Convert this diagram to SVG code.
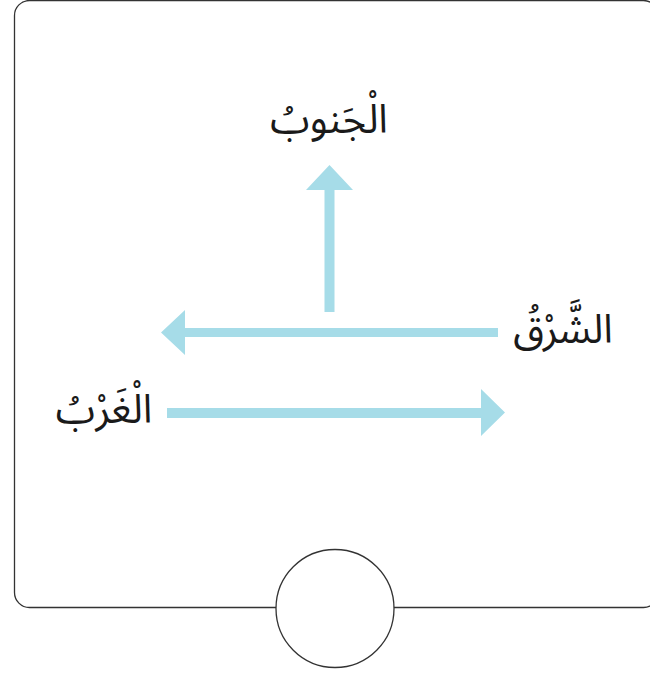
<svg xmlns="http://www.w3.org/2000/svg" width="650" height="673" viewBox="0 0 650 673">
<style>
.frame{fill:#fff;stroke:#333;stroke-width:1.3}
.arrow{fill:#a6dce8}
.lbl{font-family:"Noto Sans Arabic","Noto Sans","DejaVu Sans",sans-serif;font-size:40px;fill:#1a1a1a;text-anchor:middle;direction:rtl}
</style>
<rect width="650" height="673" fill="#fff"/>
<g id="frame">
<rect class="frame" x="14.5" y="0.5" width="644" height="607" rx="15" ry="15"/>
</g>
<g id="circle">
<circle class="frame" cx="335" cy="608.5" r="59"/>
</g>
<g id="connectors">
<polygon class="arrow" points="324.5,312 324.5,190 306,190 329.5,165 353,190 334.5,190 334.5,312"/>
<polygon class="arrow" points="498,328 185,328 185,310 161,332.5 185,355 185,337 498,337"/>
<polygon class="arrow" points="167,408 481,408 481,389 505,412.5 481,436 481,418 167,418"/>
</g>
<g id="south"><text class="lbl" x="329" y="133">الْجَنوبُ</text></g>
<g id="east"><text class="lbl" x="563" y="343">الشَّرْقُ</text></g>
<g id="west"><text class="lbl" x="104" y="423">الْغَرْبُ</text></g>
</svg>
